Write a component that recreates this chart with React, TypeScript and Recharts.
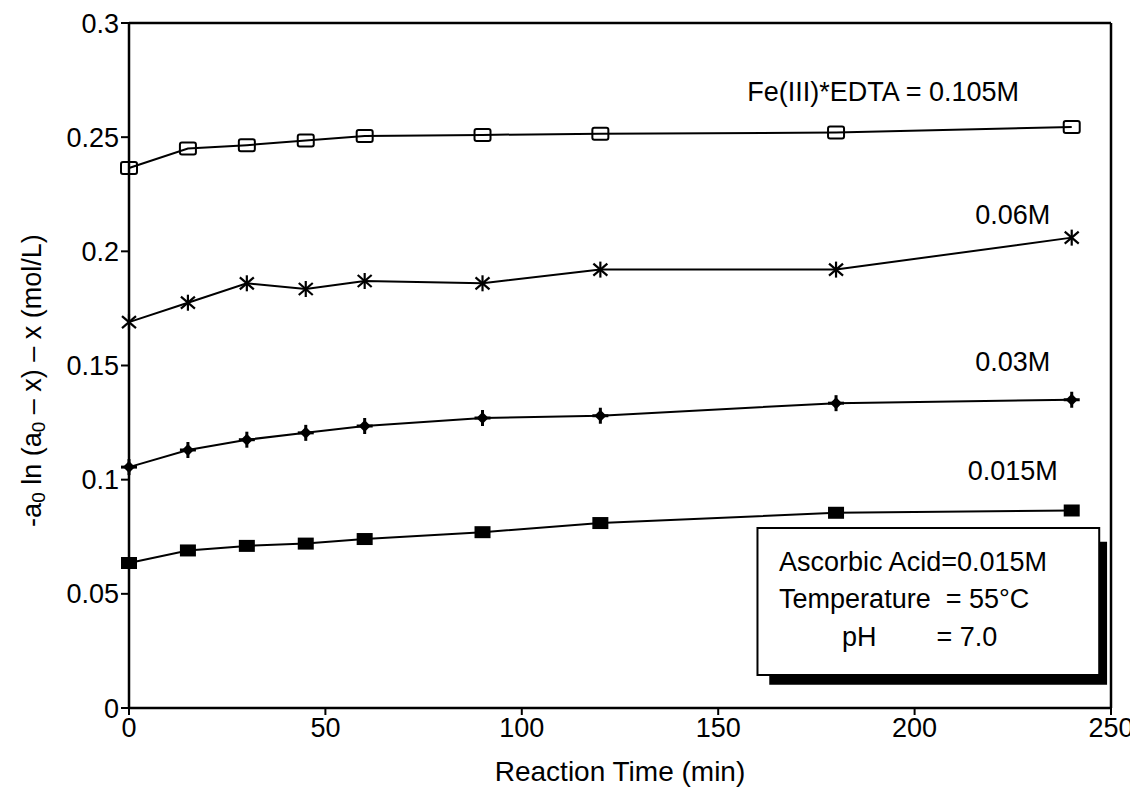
import React from 'react';
import { LineChart, Line, XAxis, YAxis, ReferenceLine, ReferenceArea, ReferenceDot } from 'recharts';

const times = [0, 15, 30, 45, 60, 90, 120, 180, 240];
const fe0105 = [0.2365, 0.245, 0.2465, 0.2485, 0.2505, 0.251, 0.2515, 0.252, 0.2545];
const fe006 = [0.169, 0.1775, 0.186, 0.1835, 0.187, 0.186, 0.192, 0.192, 0.206];
const fe003 = [0.1055, 0.113, 0.1175, 0.1205, 0.1235, 0.127, 0.128, 0.1335, 0.135];
const fe0015 = [0.0635, 0.069, 0.071, 0.072, 0.074, 0.077, 0.081, 0.0855, 0.0865];

const xTicks = [0, 50, 100, 150, 200, 250];
const yTicks = [0, 0.05, 0.1, 0.15, 0.2, 0.25, 0.3];

const seriesLabels = [
  { text: 'Fe(III)*EDTA = 0.105M', x: 192, y: 0.27 },
  { text: '0.06M', x: 225, y: 0.216 },
  { text: '0.03M', x: 225, y: 0.1515 },
  { text: '0.015M', x: 225, y: 0.104 },
];
const boxLines = [
  { text: 'Ascorbic Acid=0.015M', x: 165.5, y: 0.064 },
  { text: 'Temperature  = 55°C', x: 165.5, y: 0.0477 },
  { text: 'pH        = 7.0', x: 181.5, y: 0.0311 },
];
const boxRange = { x1: 160, x2: 247, y1: 0.0145, y2: 0.0788 };
const shadowRange = { x1: 163, x2: 249, y1: 0.0102, y2: 0.0728 };

const rows = times.map((t, i) => ({ t, a: fe0105[i], b: fe006[i], c: fe003[i], d: fe0015[i] }));

const FONT = '"Liberation Sans", Arial, Helvetica, sans-serif';

const OpenSquare = (p: any) => (
  <rect key={p.index} x={p.cx - 8} y={p.cy - 6} width={16} height={12} rx={2} fill="none" stroke="#000" strokeWidth={2} />
);
const Star = (p: any) => (
  <g key={p.index} stroke="#000" strokeWidth={2.2}>
    <line x1={p.cx - 7} y1={p.cy - 6} x2={p.cx + 7} y2={p.cy + 6} />
    <line x1={p.cx - 7} y1={p.cy + 6} x2={p.cx + 7} y2={p.cy - 6} />
    <line x1={p.cx} y1={p.cy - 8} x2={p.cx} y2={p.cy + 8} />
  </g>
);
const Plus = (p: any) => (
  <g key={p.index}>
    <polygon points={`${p.cx},${p.cy - 6} ${p.cx + 6},${p.cy} ${p.cx},${p.cy + 6} ${p.cx - 6},${p.cy}`} fill="#000" />
    <line x1={p.cx - 8} y1={p.cy} x2={p.cx + 8} y2={p.cy} stroke="#000" strokeWidth={3} />
    <line x1={p.cx} y1={p.cy - 8} x2={p.cx} y2={p.cy + 8} stroke="#000" strokeWidth={3} />
  </g>
);
const FilledSquare = (p: any) => (
  <rect key={p.index} x={p.cx - 8} y={p.cy - 6} width={16} height={12} fill="#000" />
);

const textLabel = (text: string, size: number, anchor: string) => (props: any) => {
  const vb = props.viewBox || {};
  const cx = vb.x + (vb.width || 0) / 2;
  const cy = vb.y + (vb.height || 0) / 2;
  return (
    <text x={cx} y={cy} textAnchor={anchor} dominantBaseline="central" fontSize={size}
      fontFamily={FONT} fill="#000" style={{ whiteSpace: 'pre' }}>
      {text}
    </text>
  );
};

const YTitle = (props: any) => {
  const vb = props.viewBox || {};
  const cx = vb.x + 24;
  const cy = vb.y + vb.height / 2 + 15;
  return (
    <text x={cx} y={cy} transform={`rotate(-90, ${cx}, ${cy})`} textAnchor="middle" dominantBaseline="central"
      fontSize={27} fontFamily={FONT} fill="#000">
      <tspan>-a</tspan>
      <tspan fontSize={19} dy={6}>0</tspan>
      <tspan dy={-6}> ln (a</tspan>
      <tspan fontSize={19} dy={6}>0</tspan>
      <tspan dy={-6}> – x) – x (mol/L)</tspan>
    </text>
  );
};

const XTitle = (props: any) => {
  const vb = props.viewBox || {};
  return (
    <text x={vb.x + vb.width / 2} y={vb.y + 63} textAnchor="middle" dominantBaseline="central"
      fontSize={28} fontFamily={FONT} fill="#000">
      Reaction Time (min)
    </text>
  );
};

export default function App() {
  const tickStyle = { fontSize: 27, fontFamily: FONT, fill: '#000' };
  return (
    <div style={{ width: 1130, height: 780, background: '#fff' }}>
      <LineChart width={1130} height={780} data={rows} margin={{ top: 15, right: 27, left: 0, bottom: 0 }}>
        <XAxis dataKey="t" type="number" domain={[0, 250]} ticks={xTicks} height={80}
          stroke="#000" strokeWidth={2.5} tickSize={7} tickMargin={3} tick={tickStyle}
          tickLine={{ stroke: '#000', strokeWidth: 2 }} label={{ content: XTitle }} />
        <YAxis type="number" domain={[0, 0.3]} ticks={yTicks} width={121}
          stroke="#000" strokeWidth={2.5} tickSize={8} tickMargin={2} tick={tickStyle}
          tickLine={{ stroke: '#000', strokeWidth: 2 }} tickFormatter={(v: number) => String(v)}
          label={{ content: YTitle }} />
        <ReferenceLine y={0.3} stroke="#000" strokeWidth={2.5} />
        <ReferenceLine x={250} stroke="#000" strokeWidth={2.5} />
        <Line dataKey="a" stroke="#000" strokeWidth={2} dot={OpenSquare} isAnimationActive={false} />
        <Line dataKey="b" stroke="#000" strokeWidth={2} dot={Star} isAnimationActive={false} />
        <Line dataKey="c" stroke="#000" strokeWidth={2} dot={Plus} isAnimationActive={false} />
        <Line dataKey="d" stroke="#000" strokeWidth={2} dot={FilledSquare} isAnimationActive={false} />
        <ReferenceArea {...shadowRange} fill="#000" fillOpacity={1} stroke="none" />
        <ReferenceArea {...boxRange} fill="#fff" fillOpacity={1} stroke="#000" strokeWidth={2} />
        {seriesLabels.map((l) => (
          <ReferenceDot key={l.text} x={l.x} y={l.y} r={0} fill="none" stroke="none"
            label={{ content: textLabel(l.text, 27, 'middle') }} />
        ))}
        {boxLines.map((l) => (
          <ReferenceDot key={l.text} x={l.x} y={l.y} r={0} fill="none" stroke="none"
            label={{ content: textLabel(l.text, 27, 'start') }} />
        ))}
      </LineChart>
    </div>
  );
}
